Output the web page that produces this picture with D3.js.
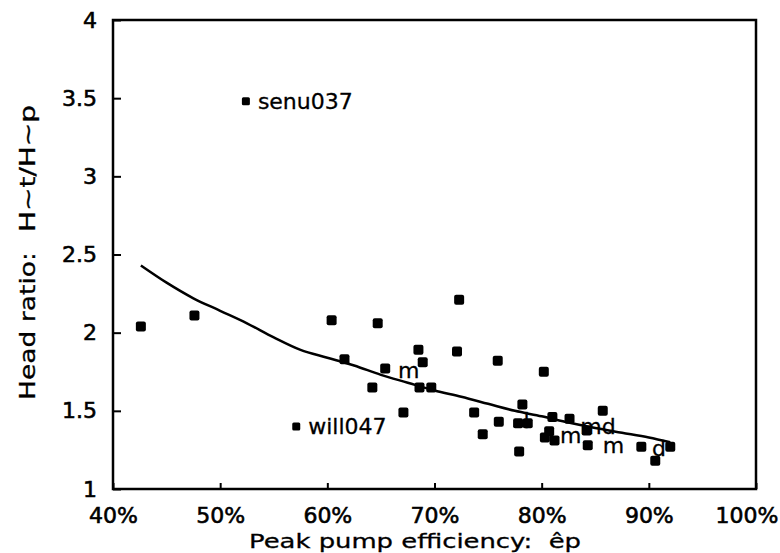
<!DOCTYPE html>
<html>
<head>
<meta charset="utf-8">
<script src="https://cdn.jsdelivr.net/npm/d3@7"></script>
<style>
  html, body { margin: 0; padding: 0; background: #fff; }
  svg { display: block; }
  text { font-family: "DejaVu Sans", sans-serif; fill: #000; stroke: #000; stroke-width: 0.3px; }
</style>
</head>
<body>
<svg id="chart" width="780" height="553"></svg>
<script>
// Peak pump efficiency (fraction) and head ratio Ht/Hp for each pump
const efficiency = [0.426, 0.476, 0.604, 0.616, 0.642, 0.647, 0.654, 0.671, 0.685, 0.686,
  0.689, 0.697, 0.721, 0.723, 0.737, 0.745, 0.759, 0.760, 0.778, 0.782, 0.787, 0.779,
  0.802, 0.810, 0.807, 0.803, 0.812, 0.826, 0.842, 0.843, 0.857, 0.893, 0.906, 0.920];
const headRatio = [2.04, 2.11, 2.08, 1.83, 1.65, 2.06, 1.77, 1.49, 1.89, 1.65,
  1.81, 1.65, 1.88, 2.21, 1.49, 1.35, 1.82, 1.43, 1.42, 1.54, 1.42, 1.24,
  1.75, 1.46, 1.37, 1.33, 1.31, 1.45, 1.375, 1.28, 1.50, 1.27, 1.18, 1.27];

// Named outliers
const namedPumps = ["senu037", "will047"];
const namedEfficiency = [0.524, 0.571];
const namedHeadRatio = [3.48, 1.40];

// Fitted trend curve
const fitEfficiency = [0.426, 0.45, 0.475, 0.50, 0.525, 0.55, 0.575, 0.60, 0.625, 0.65,
  0.675, 0.70, 0.725, 0.75, 0.775, 0.80, 0.825, 0.85, 0.875, 0.90, 0.92];
const fitHeadRatio = [2.43, 2.32, 2.22, 2.14, 2.06, 1.97, 1.89, 1.84, 1.79, 1.73,
  1.68, 1.63, 1.59, 1.545, 1.50, 1.465, 1.425, 1.39, 1.36, 1.33, 1.30];

// Pump-type letters placed next to some points
const tagText = ["m", "l", "m", "md", "m", "d"];
const tagEfficiency = [0.666, 0.783, 0.817, 0.836, 0.857, 0.903];
const tagHeadRatio = [1.76, 1.44, 1.345, 1.40, 1.28, 1.26];

const xTickValues = [0.4, 0.5, 0.6, 0.7, 0.8, 0.9, 1.0];
const xTickLabels = ["40%", "50%", "60%", "70%", "80%", "90%", "100%"];
const yTickValues = [1, 1.5, 2, 2.5, 3, 3.5, 4];
const yTickLabels = ["1", "1.5", "2", "2.5", "3", "3.5", "4"];

const svg = d3.select("#chart");
const plotLeft = 113, plotRight = 756, plotTop = 20, plotBottom = 489;

const x = d3.scaleLinear().domain([0.4, 1.0]).range([plotLeft, plotRight]);
const y = d3.scaleLinear().domain([1, 4]).range([plotBottom, plotTop]);

// Frame
svg.append("rect")
  .attr("x", plotLeft).attr("y", plotTop)
  .attr("width", plotRight - plotLeft).attr("height", plotBottom - plotTop)
  .attr("fill", "none").attr("stroke", "#000").attr("stroke-width", 2.5);

// Axes with inward ticks
const xAxis = d3.axisBottom(x)
  .tickValues(xTickValues)
  .tickFormat((d, i) => xTickLabels[i])
  .tickSizeInner(-6).tickSizeOuter(0).tickPadding(18);
const gx = svg.append("g").attr("transform", `translate(0,${plotBottom})`).call(xAxis);

const yAxis = d3.axisLeft(y)
  .tickValues(yTickValues)
  .tickFormat((d, i) => yTickLabels[i])
  .tickSizeInner(-8).tickSizeOuter(0).tickPadding(16);
const gy = svg.append("g").attr("transform", `translate(${plotLeft},0)`).call(yAxis);

[gx, gy].forEach(g => {
  g.select(".domain").remove();
  g.selectAll(".tick line").attr("stroke", "#000").attr("stroke-width", 2);
  g.selectAll(".tick text")
    .style("font-family", "'DejaVu Sans', sans-serif")
    .style("font-size", "22px").attr("fill", "#000")
    .style("stroke-width", "0.6px");
});
// the last x label sits flush with the right edge of the figure
gx.selectAll(".tick text").filter((d, i) => i === xTickLabels.length - 1)
  .attr("text-anchor", "end").attr("x", 778 - plotRight);

// Axis titles
svg.append("text")
  .attr("x", 249).attr("y", 548)
  .attr("textLength", 332).attr("lengthAdjust", "spacingAndGlyphs")
  .style("font-size", "20px")
  .style("white-space", "pre")
  .text("Peak pump efficiency:  êp");

const yTitle = svg.append("g").attr("transform", "translate(35,0) rotate(-90)");
yTitle.append("text")
  .attr("x", -400).attr("y", 0)
  .attr("textLength", 148).attr("lengthAdjust", "spacingAndGlyphs")
  .style("font-size", "21px")
  .text("Head ratio:");
yTitle.append("text")
  .attr("x", -232).attr("y", 0)
  .attr("textLength", 127).attr("lengthAdjust", "spacingAndGlyphs")
  .style("font-size", "21px")
  .text("H~t/H~p");

// Type letters (drawn beneath the markers)
svg.append("g").selectAll("text")
  .data(tagText)
  .join("text")
  .attr("x", (d, i) => x(tagEfficiency[i]))
  .attr("y", (d, i) => y(tagHeadRatio[i]))
  .attr("dy", "0.35em")
  .style("font-size", "22px")
  .text(d => d);

// Fitted curve
const line = d3.line()
  .x((d, i) => x(fitEfficiency[i]))
  .y(d => y(d))
  .curve(d3.curveMonotoneX);
svg.append("path")
  .attr("d", line(fitHeadRatio))
  .attr("fill", "none").attr("stroke", "#000").attr("stroke-width", 2.5);

// Data markers
const s = 10;
svg.append("g").selectAll("rect")
  .data(headRatio)
  .join("rect")
  .attr("x", (d, i) => x(efficiency[i]) - s / 2)
  .attr("y", d => y(d) - s / 2)
  .attr("width", s).attr("height", s)
  .attr("rx", 2).attr("fill", "#000");

// Named outliers with labels
const sn = 8;
const named = svg.append("g");
named.selectAll("rect")
  .data(namedHeadRatio)
  .join("rect")
  .attr("x", (d, i) => x(namedEfficiency[i]) - sn / 2)
  .attr("y", d => y(d) - sn / 2)
  .attr("width", sn).attr("height", sn)
  .attr("rx", 1.5).attr("fill", "#000");
named.selectAll("text")
  .data(namedPumps)
  .join("text")
  .attr("x", (d, i) => x(namedEfficiency[i]) + 12)
  .attr("y", (d, i) => y(namedHeadRatio[i]))
  .attr("dy", "0.35em")
  .style("font-size", "22px")
  .text(d => d);
</script>
</body>
</html>
